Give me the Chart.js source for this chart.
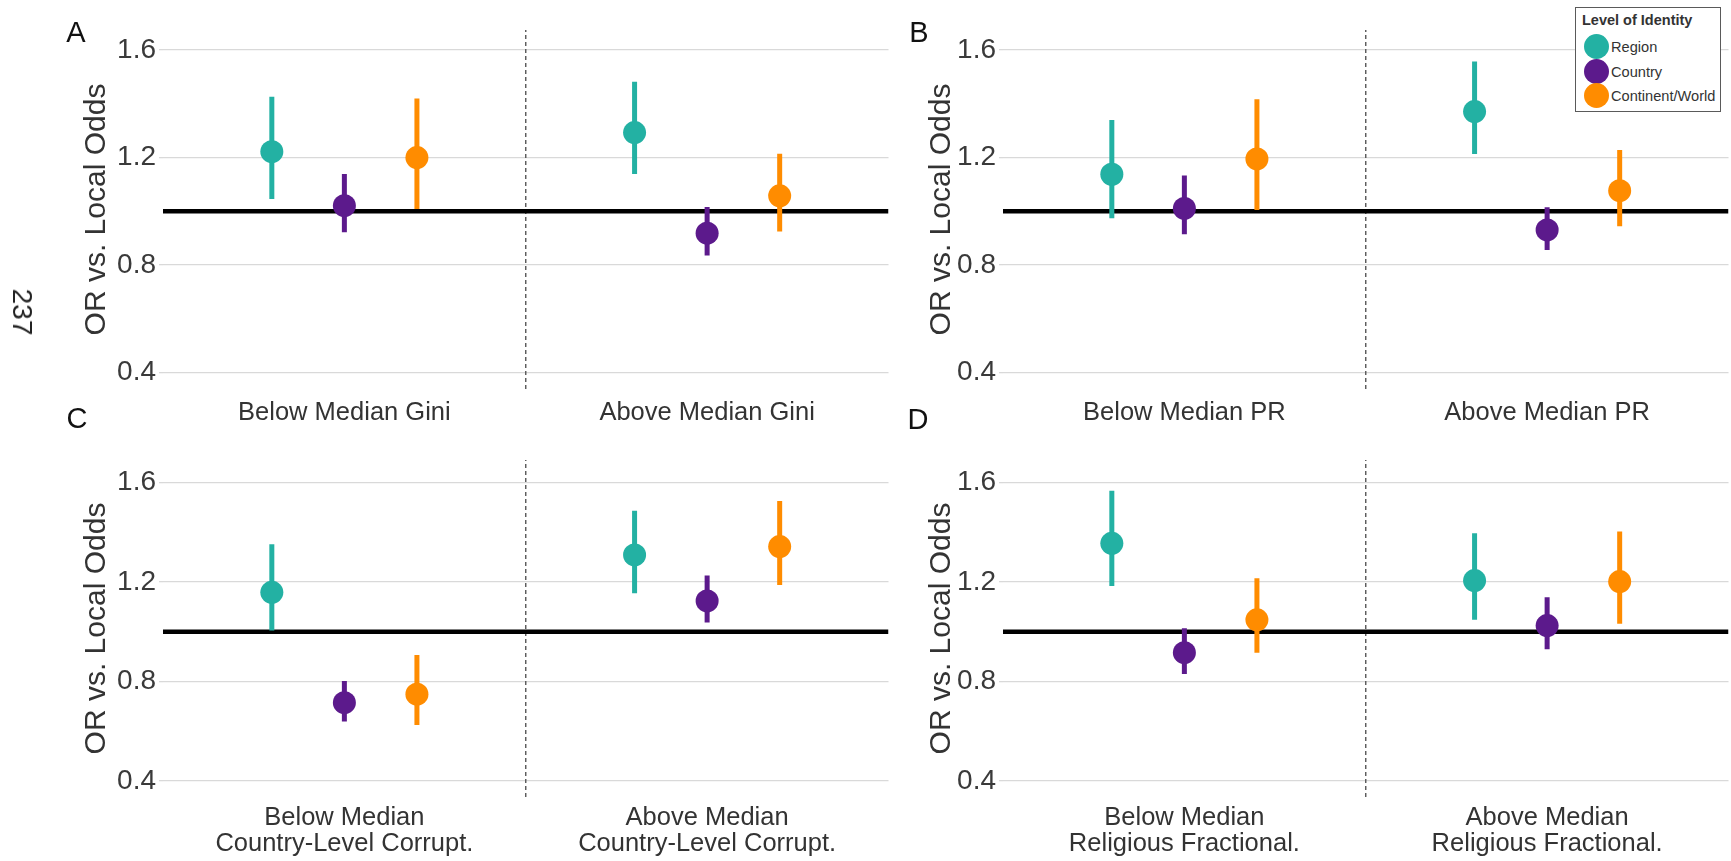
<!DOCTYPE html>
<html><head><meta charset="utf-8">
<script src="https://cdn.jsdelivr.net/npm/chart.js@4.4.1/dist/chart.umd.min.js"></script>
<style>
html,body{margin:0;padding:0;background:#fff;overflow:hidden;width:1731px;height:861px;position:relative;}
canvas{position:absolute;}
.lbl{position:absolute;font-family:"Liberation Sans",Arial,sans-serif;color:#111;transform:translate(-50%,-50%);white-space:nowrap;line-height:1;}
#legend{position:absolute;left:1575px;top:7px;width:144px;height:103px;border:1.5px solid #5a5a5a;background:#fff;font-family:"Liberation Sans",Arial,sans-serif;color:#333;}
#legend .t{position:absolute;left:6px;top:5px;font-weight:bold;font-size:14.5px;line-height:1;}
#legend .dot{position:absolute;width:25px;height:25px;border-radius:50%;}
#legend .it{position:absolute;font-size:14.6px;line-height:1;transform:translateY(-50%);}
</style></head><body>
<canvas id="cA" width="900" height="430" style="left:0;top:0"></canvas>
<canvas id="cB" width="860" height="430" style="left:880px;top:0"></canvas>
<canvas id="cC" width="900" height="431" style="left:0;top:430px"></canvas>
<canvas id="cD" width="860" height="431" style="left:880px;top:430px"></canvas>
<div class="lbl" style="left:76px;top:32px;font-size:29px">A</div>
<div class="lbl" style="left:919px;top:32px;font-size:29px">B</div>
<div class="lbl" style="left:77px;top:418px;font-size:29px">C</div>
<div class="lbl" style="left:918px;top:419px;font-size:29px">D</div>
<div class="lbl" style="left:22px;top:312px;font-size:28px;color:#222;transform:translate(-50%,-50%) rotate(90deg)">237</div>
<div id="legend"></div>
<script>
// ---- data ----
const seriesNames = ['Region', 'Country', 'Continent/World'];
const yTicks = [0.4, 0.8, 1.2, 1.6];
const refValue = 1.0;

const giniCats = ['Below Median Gini', 'Above Median Gini'];
const giniEst = [[1.222, 1.293], [1.021, 0.919], [1.200, 1.058]];
const giniLo  = [[1.046, 1.139], [0.922, 0.836], [1.009, 0.925]];
const giniHi  = [[1.426, 1.482], [1.139, 1.016], [1.420, 1.214]];

const prCats = ['Below Median PR', 'Above Median PR'];
const prEst = [[1.138, 1.371], [1.011, 0.931], [1.195, 1.077]];
const prLo  = [[0.974, 1.213], [0.915, 0.856], [1.005, 0.945]];
const prHi  = [[1.340, 1.557], [1.133, 1.015], [1.417, 1.228]];

const corCats = [['Below Median', 'Country-Level Corrupt.'], ['Above Median', 'Country-Level Corrupt.']];
const corEst = [[1.159, 1.309], [0.715, 1.124], [0.749, 1.343]];
const corLo  = [[1.005, 1.155], [0.639, 1.037], [0.625, 1.188]];
const corHi  = [[1.352, 1.487], [0.802, 1.226], [0.907, 1.526]];

const relCats = [['Below Median', 'Religious Fractional.'], ['Above Median', 'Religious Fractional.']];
const relEst = [[1.356, 1.206], [0.916, 1.025], [1.048, 1.202]];
const relLo  = [[1.184, 1.048], [0.830, 0.930], [0.916, 1.032]];
const relHi  = [[1.567, 1.396], [1.014, 1.139], [1.215, 1.403]];

// ---- style ----
const colors = ['#23b1a3', '#5c1a8c', '#ff8c00'];
const dodge = [-0.2, 0, 0.2];
const FONT = '"Liberation Sans", Arial, sans-serif';

function makePanel(id, cats, est, lo, hi, cfg) {
  const datasets = [];
  seriesNames.forEach((name, s) => {
    datasets.push({
      type: 'scatter', label: name, order: 0,
      data: cats.map((c, i) => ({x: i + dodge[s], y: est[s][i]})),
      pointRadius: 11.5, pointBackgroundColor: colors[s], pointBorderWidth: 0, showLine: false
    });
    cats.forEach((c, i) => {
      datasets.push({
        type: 'line', label: name + ' CI', order: 1,
        data: [{x: i + dodge[s], y: lo[s][i]}, {x: i + dodge[s], y: hi[s][i]}],
        borderColor: colors[s], borderWidth: 5, pointRadius: 0, borderCapStyle: 'butt'
      });
    });
  });
  datasets.push({
    type: 'line', label: 'ref', order: 2,
    data: [{x: -0.5, y: refValue}, {x: cats.length - 0.5, y: refValue}],
    borderColor: '#000', borderWidth: 4.5, pointRadius: 0
  });
  datasets.push({
    type: 'line', label: 'sep', order: 3,
    data: [{x: 0.5, y: cfg.yMin}, {x: 0.5, y: cfg.yMax}],
    borderColor: '#555', borderWidth: 1.4, borderDash: [4, 3], pointRadius: 0
  });

  new Chart(document.getElementById(id), {
    type: 'scatter',
    data: {datasets},
    options: {
      responsive: false, animation: false, events: [],
      layout: {padding: {left: 0, right: cfg.padRight, top: cfg.padTop, bottom: 0}},
      plugins: {legend: {display: false}, tooltip: {enabled: false}},
      scales: {
        x: {
          type: 'linear', min: -0.5, max: cats.length - 0.5,
          grid: {display: false, drawTicks: false}, border: {display: false},
          afterBuildTicks: sc => { sc.ticks = cats.map((c, i) => ({value: i})); },
          afterFit: sc => { sc.height = cfg.xH; },
          ticks: {
            autoSkip: false, maxRotation: 0, minRotation: 0, padding: cfg.xPad,
            color: '#333', font: {family: FONT, size: 25.5, lineHeight: cfg.xLH},
            callback: v => cats[Math.round(v)]
          }
        },
        y: {
          type: 'linear', min: cfg.yMin, max: cfg.yMax,
          afterBuildTicks: sc => { sc.ticks = yTicks.map(v => ({value: v})); },
          afterFit: sc => { sc.width = cfg.yW; },
          grid: {color: '#d9d9d9', lineWidth: 1.3, drawTicks: true, tickLength: 4},
          border: {display: false},
          ticks: {padding: 3, color: '#3a3a3a', font: {family: FONT, size: 28}, callback: v => v.toFixed(1)},
          title: {display: true, text: 'OR vs. Local Odds', color: '#333',
                  font: {family: FONT, size: 30}, padding: {top: cfg.titlePad, bottom: 0}}
        }
      }
    }
  });
}

const topRow = {yMin: 0.3394, yMax: 1.6744, padTop: 30, xH: 41, xPad: 9, xLH: 1.2};
const botRow = {yMin: 0.3356, yMax: 1.691, padTop: 30, xH: 64, xPad: 8.5, xLH: 1.0};
const leftCol = {yW: 163, padRight: 7, titlePad: 79};
const rightCol = {yW: 123, padRight: 1, titlePad: 43.5};

makePanel('cA', giniCats, giniEst, giniLo, giniHi, Object.assign({}, topRow, leftCol));
makePanel('cB', prCats, prEst, prLo, prHi, Object.assign({}, topRow, rightCol));
makePanel('cC', corCats, corEst, corLo, corHi, Object.assign({}, botRow, leftCol));
makePanel('cD', relCats, relEst, relLo, relHi, Object.assign({}, botRow, rightCol));

// ---- legend ----
const lg = document.getElementById('legend');
const t = document.createElement('div'); t.className = 't'; t.textContent = 'Level of Identity'; lg.appendChild(t);
const itemY = [38, 63, 87];
seriesNames.forEach((name, s) => {
  const d = document.createElement('div'); d.className = 'dot';
  d.style.background = colors[s]; d.style.left = (20 - 12.5) + 'px'; d.style.top = (itemY[s] - 12.5) + 'px';
  lg.appendChild(d);
  const it = document.createElement('div'); it.className = 'it'; it.textContent = name;
  it.style.left = '35px'; it.style.top = (itemY[s] + 1) + 'px';
  lg.appendChild(it);
});
</script>
</body></html>
